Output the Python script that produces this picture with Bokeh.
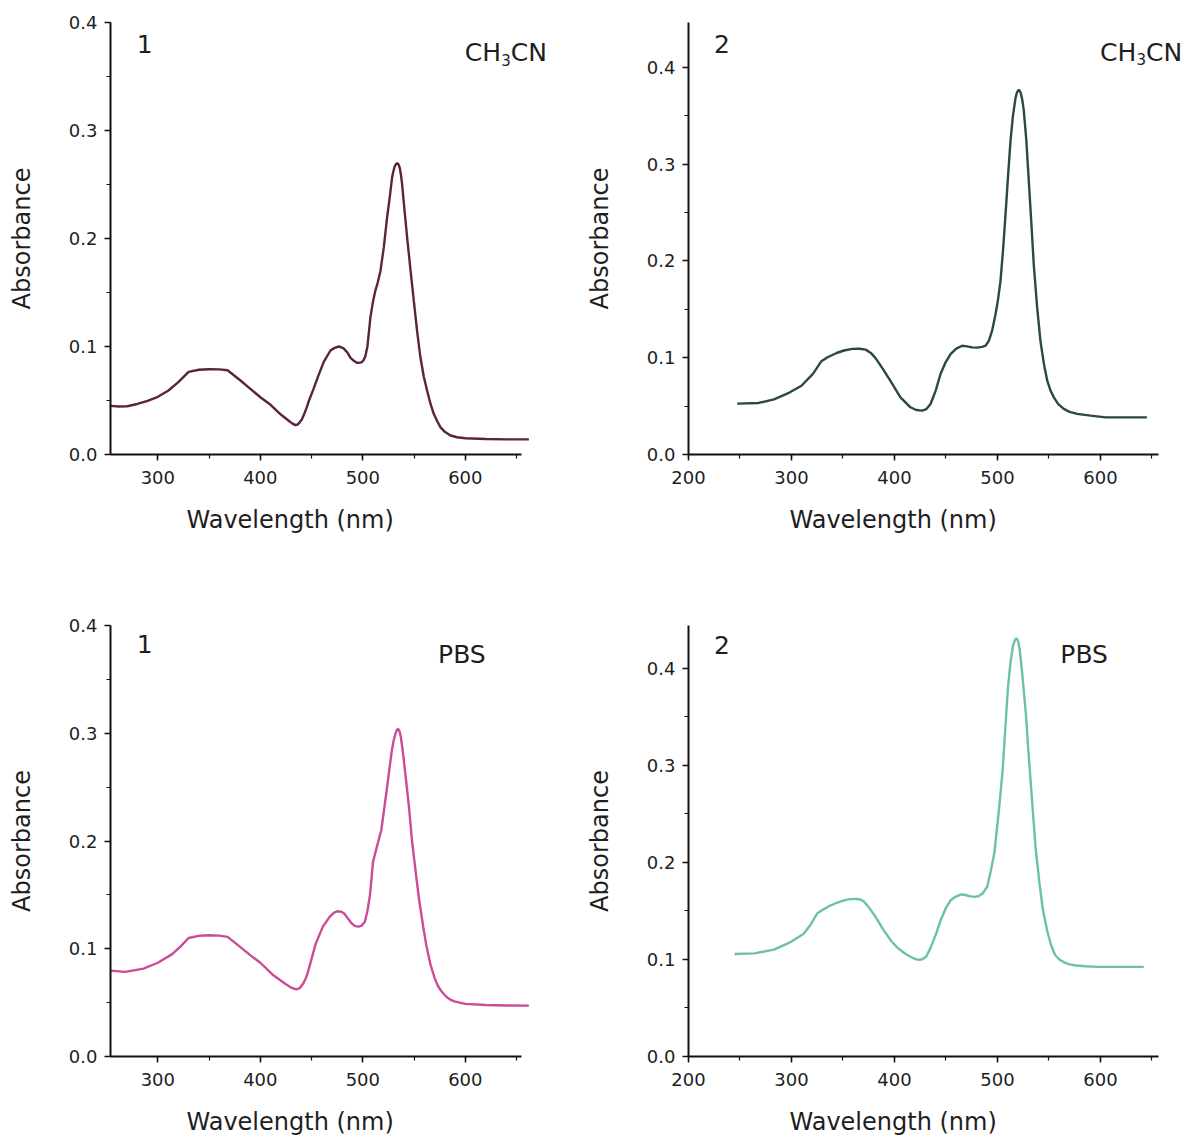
from bokeh.plotting import figure
from bokeh.models import Label, Title, SingleIntervalTicker, PrintfTickFormatter, Range1d
from bokeh.layouts import row, column
from bokeh.embed import file_html
from bokeh.resources import INLINE

# ---------------- data ----------------
# Compound 1 in CH3CN
wl_1_ch3cn = [254, 262, 270, 280, 290, 300, 310, 320, 330, 340, 350, 360, 368,
              380, 390, 400, 410, 420, 428, 431, 434.2, 436.5, 438.5, 440.5, 442.4,
              445, 447.5, 452, 457, 462, 468.4, 472, 476.5, 481, 484.7, 488, 491,
              494, 496, 498.5, 500.5, 502.5, 504.5, 507.4, 510, 512.3, 514.5,
              517.2, 520.5, 523.7, 526.5, 528.6, 529.8, 531, 532.3, 533.5, 534.7,
              536, 537.2, 538.3, 540.5, 543.2, 546.5, 549.7, 553, 556.2, 559.5,
              562.7, 566, 569.2, 572.5, 575.7, 580, 585.5, 592, 600, 620, 640, 662]
abs_1_ch3cn = [0.045, 0.0445, 0.0447, 0.0468, 0.0497, 0.0534, 0.059, 0.067, 0.0765,
               0.0785, 0.079, 0.0788, 0.078, 0.069, 0.061, 0.053, 0.046, 0.037,
               0.031, 0.0288, 0.0272, 0.0278, 0.030, 0.0325, 0.0365, 0.043, 0.050,
               0.061, 0.074, 0.086, 0.0963, 0.0985, 0.1, 0.0985, 0.0947, 0.0895,
               0.087, 0.085, 0.0849, 0.0853, 0.087, 0.091, 0.1, 0.127, 0.142, 0.152,
               0.159, 0.170, 0.192, 0.2197, 0.240, 0.2568, 0.262, 0.2665, 0.2688,
               0.2697, 0.2688, 0.2655, 0.259, 0.2506, 0.228, 0.2012, 0.171, 0.1426,
               0.114, 0.090, 0.072, 0.0593, 0.047, 0.0377, 0.031, 0.0253, 0.021,
               0.0176, 0.016, 0.015, 0.0143, 0.014, 0.014]

# Compound 2 in CH3CN
wl_2_ch3cn = [247.3, 268, 283, 298, 309.7, 321, 328.7, 335, 343.8, 351, 359, 366,
              372, 377, 381.6, 389, 396.8, 405.8, 415.5, 421, 426.9, 431, 435, 440,
              444.7, 449.5, 454.4, 460, 465.7, 470.5, 475.4, 480, 485.1, 488.5,
              491.6, 494.8, 498.1, 500.5, 502.9, 505.3, 507.8, 510.2, 512.6, 515,
              517.5, 519, 520.7, 522.5, 524, 525.5, 528, 530.4, 533, 535.2, 538.5,
              541.7, 545, 548.3, 551.5, 554.7, 559, 564.4, 570, 577.4, 590.3, 605,
              645]
abs_2_ch3cn = [0.0526, 0.0533, 0.0569, 0.064, 0.0711, 0.0836, 0.096, 0.1005, 0.1049,
               0.1075, 0.1092, 0.1093, 0.1084, 0.105, 0.0996, 0.088, 0.0747, 0.0591,
               0.0488, 0.046, 0.0454, 0.047, 0.0522, 0.066, 0.0832, 0.095, 0.1038,
               0.1095, 0.1124, 0.1118, 0.1107, 0.1105, 0.1113, 0.1125, 0.1175, 0.128,
               0.145, 0.16, 0.179, 0.21, 0.248, 0.287, 0.3237, 0.350, 0.3684, 0.3745,
               0.377, 0.374, 0.367, 0.356, 0.325, 0.2825, 0.237, 0.1966, 0.152,
               0.1175, 0.094, 0.0763, 0.066, 0.0591, 0.052, 0.0471, 0.044, 0.042,
               0.0402, 0.0384, 0.0384]

# Compound 1 in PBS
wl_1_pbs = [254, 268, 286, 300, 314, 322, 330, 340, 350, 360, 368, 380, 391, 400,
            412, 425, 430, 435, 438.5, 442, 445, 447.5, 454, 461, 468, 472, 475,
            478.5, 482, 485.5, 489, 492.5, 496, 499, 502, 504.5, 507, 510, 513, 518,
            523, 528, 530, 532, 533.3, 534.5, 535.8, 537, 538.5, 540, 542, 545, 548,
            552, 555, 559, 562, 566, 570, 573, 576, 579, 582, 586, 590, 600, 620,
            640, 662]
abs_1_pbs = [0.0797, 0.0785, 0.0815, 0.087, 0.095, 0.102, 0.110, 0.112, 0.1125,
             0.1122, 0.111, 0.102, 0.0934, 0.087, 0.0759, 0.067, 0.064, 0.0622,
             0.0635, 0.068, 0.074, 0.082, 0.1045, 0.1205, 0.130, 0.1335, 0.1348,
             0.1345, 0.1326, 0.128, 0.1237, 0.121, 0.1205, 0.1215, 0.125, 0.135,
             0.15, 0.181, 0.192, 0.21, 0.245, 0.282, 0.293, 0.300, 0.303, 0.304,
             0.302, 0.297, 0.287, 0.275, 0.258, 0.232, 0.20, 0.168, 0.145, 0.12,
             0.103, 0.0854, 0.073, 0.066, 0.0615, 0.058, 0.055, 0.0525, 0.051,
             0.0488, 0.0478, 0.0474, 0.0472]

# Compound 2 in PBS
wl_2_pbs = [244.7, 264, 283, 298, 311.6, 318, 325, 330, 336, 343, 351, 357, 362.7,
            367, 370, 375, 381.6, 389, 396.8, 404, 412, 418, 423.3, 427, 430.8, 435,
            440.3, 445, 449.8, 454.5, 459.2, 464.9, 469, 472.5, 478, 482, 485.7, 490,
            493.3, 497, 501.5, 505, 510, 512.5, 515, 516.8, 518.3, 519.8, 521.5, 524,
            527.5, 530, 533, 537, 540.6, 544, 548.2, 552, 555.8, 560, 565.2, 570,
            576.6, 585, 597.4, 642]
abs_2_pbs = [0.1056, 0.1063, 0.1102, 0.1173, 0.1262, 0.135, 0.1476, 0.151, 0.1547,
             0.158, 0.161, 0.1622, 0.1625, 0.1618, 0.160, 0.154, 0.144, 0.131,
             0.1191, 0.111, 0.1049, 0.1015, 0.0996, 0.1003, 0.1031, 0.112, 0.1262,
             0.141, 0.1529, 0.161, 0.1646, 0.1671, 0.1665, 0.1653, 0.1646, 0.1655,
             0.1682, 0.175, 0.1902, 0.21, 0.255, 0.295, 0.378, 0.405, 0.423, 0.429,
             0.4313, 0.429, 0.42, 0.395, 0.354, 0.315, 0.272, 0.215, 0.18, 0.152,
             0.1298, 0.115, 0.1049, 0.100, 0.0968, 0.095, 0.0938, 0.093, 0.0924,
             0.0924]

panel_numbers = ["1", "2", "1", "2"]
solvents = ["CH3CN", "CH3CN", "PBS", "PBS"]
line_colors = ["#5a2341", "#2b4a3a", "#cc4b96", "#6dc2a0"]
x_title = "Wavelength (nm)"
y_title = "Absorbance"

FONT = "DejaVu Sans"
TXT = "#1e1e1e"
AX = "#111111"


def solvent_parts(name):
    if name == "CH3CN":
        return [("CH", "25px", 0, 0), ("3", "15px", 36.5, -7), ("CN", "25px", 46, 0)]
    return [(name, "25px", 0, 0)]


def make_panel(wl, ab, color, num, solvent, x_start, x_end, x_bound_end, y_end,
               frame_w, frame_h, b_left, b_top, b_bottom,
               num_xy, solv_xy, xlab_offset):
    p = figure(frame_width=frame_w, frame_height=frame_h,
               min_border_left=b_left, min_border_right=0,
               min_border_top=b_top, min_border_bottom=b_bottom,
               x_range=Range1d(x_start, x_end), y_range=Range1d(0, y_end),
               output_backend="svg", toolbar_location=None)
    p.outline_line_color = None
    p.xgrid.visible = False
    p.ygrid.visible = False
    p.background_fill_color = "white"
    p.border_fill_color = "white"

    p.line(wl, ab, line_color=color, line_width=2.4)

    xa = p.xaxis[0]
    xa.ticker = SingleIntervalTicker(interval=100, num_minor_ticks=2)
    xa.bounds = (x_start, x_bound_end)
    ya = p.yaxis[0]
    ya.ticker = SingleIntervalTicker(interval=0.1, num_minor_ticks=2)
    ya.formatter = PrintfTickFormatter(format="%.1f")
    ya.axis_label = y_title
    for a in (xa, ya):
        a.axis_line_width = 2
        a.axis_line_color = AX
        a.major_tick_out = 6
        a.major_tick_in = 0
        a.minor_tick_out = 4
        a.minor_tick_in = 0
        a.major_tick_line_width = 1.5
        a.minor_tick_line_width = 1.2
        a.major_tick_line_color = AX
        a.minor_tick_line_color = AX
        a.major_label_text_font = FONT
        a.major_label_text_font_size = "18px"
        a.major_label_text_color = TXT
    xa.major_label_standoff = 10
    ya.major_label_standoff = 7
    ya.axis_label_text_font = FONT
    ya.axis_label_text_font_size = "24px"
    ya.axis_label_text_font_style = "normal"
    ya.axis_label_text_color = TXT
    ya.axis_label_standoff = 30

    p.add_layout(Title(text=x_title, align="left", offset=xlab_offset, standoff=35,
                       text_font=FONT, text_font_size="24px",
                       text_font_style="normal", text_color=TXT), "below")

    p.add_layout(Label(x=num_xy[0], y=num_xy[1], text=num, text_font=FONT,
                       text_font_size="25px", text_color=TXT,
                       text_align="left", text_baseline="alphabetic"))
    for txt, size, dx, dy in solvent_parts(solvent):
        p.add_layout(Label(x=solv_xy[0], y=solv_xy[1], x_offset=dx, y_offset=dy,
                           text=txt, text_font=FONT, text_font_size=size,
                           text_color=TXT, text_align="left",
                           text_baseline="alphabetic"))
    return p


p1 = make_panel(wl_1_ch3cn, abs_1_ch3cn, line_colors[0], panel_numbers[0], solvents[0],
                253.8, 688, 655, 0.4, 445, 432, 110, 22, 100,
                (279.5, 0.380), (599.5, 0.3722), 76)
p2 = make_panel(wl_2_ch3cn, abs_2_ch3cn, line_colors[1], panel_numbers[1], solvents[1],
                200, 687.4, 656, 0.4465, 502, 432, 133, 22, 100,
                (224.7, 0.4238), (599.6, 0.4155), 101)
p3 = make_panel(wl_1_pbs, abs_1_pbs, line_colors[2], panel_numbers[2], solvents[2],
                253.8, 688, 655, 0.4, 445, 431, 110, 71, 84,
                (279.5, 0.3824), (573.4, 0.3731), 76)
p4 = make_panel(wl_2_pbs, abs_2_pbs, line_colors[3], panel_numbers[3], solvents[3],
                200, 687.4, 656, 0.4443, 502, 431, 133, 71, 84,
                (224.7, 0.4247), (561, 0.4144), 101)

layout = column(row(p1, p2), row(p3, p4))
open("out.html", "w").write(file_html(layout, INLINE))
